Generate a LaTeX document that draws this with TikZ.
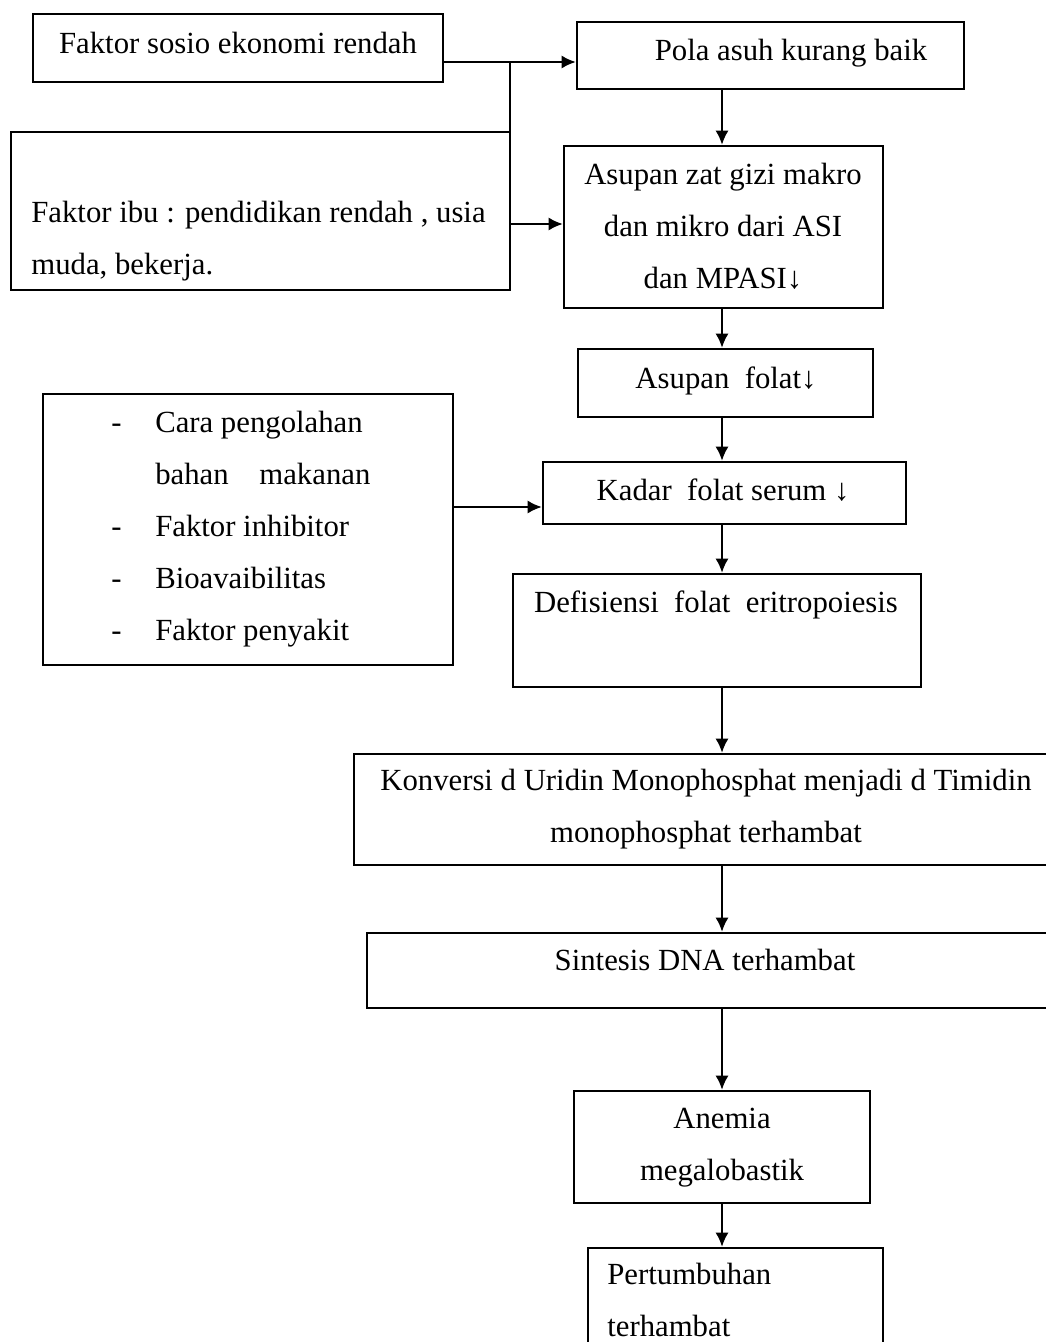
\documentclass[tikz,border=0pt]{standalone}
\usepackage{fontspec}
\setmainfont{Liberation Serif}
\usetikzlibrary{%
  arrows.meta,%
  calc%
}
\tikzset{>={Latex[length=8pt,width=7.4pt]}}
\tikzset{box/.style 2 args = {draw, line width=1.4pt, inner sep=0pt,
        minimum width=#1*0.02cm, minimum height=#2*0.02cm},%
        txt/.style={anchor=base, inner sep=0pt, font=\fontsize{17.5}{29.6}\selectfont},%
        conn/.style={->, line width=1.1pt}}

\begin{document}
\begin{tikzpicture}[x=0.02cm,y=-0.02cm]
    \useasboundingbox (0,0) rectangle (1045,1342);
    % boxes
    \node[box={410}{68}] (sosio) at (238,48) {};
    \node[box={387}{67}] (pola) at (770.5,55.5) {};
    \node[box={499}{158}] (ibu) at (260.5,211) {};
    \node[box={319}{162}] (makro) at (723.5,227) {};
    \node[box={295}{68}] (folat) at (725.5,383) {};
    \node[box={363}{62}] (kadar) at (724.5,493) {};
    \node[box={410}{271}] (faktor) at (248,529.5) {};
    \node[box={408}{113}] (defisiensi) at (717,630.5) {};
    \node[box={706}{111}] (konversi) at (707,809.5) {};
    \node[box={693}{75}] (sintesis) at (713.5,970.5) {};
    \node[box={296}{112}] (anemia) at (722,1147) {};
    \node[box={295}{122}] (tumbuh) at (735.5,1309) {};
    % texts
    \node[txt] (sosiotxt) at (238,53) {Faktor sosio ekonomi rendah};
    \node[txt] (polatxt) at (791,60) {Pola asuh kurang baik};
    \node[txt,anchor=base west] (ibutxt) at (31,222)
        {\begin{tabular}[t]{@{}l@{}}Faktor ibu : pendidikan rendah , usia\\ muda, bekerja.\end{tabular}};
    \node[txt] (makrotxt) at (723,184)
        {\begin{tabular}[t]{@{}c@{}}Asupan zat gizi makro\\ dan mikro dari ASI\\ dan MPASI↓\end{tabular}};
    \node[txt] (folattxt) at (726,388) {Asupan\ \ folat↓};
    \node[txt] (kadartxt) at (723,500) {Kadar\ \ folat serum ↓};
    \node[txt,anchor=base west] (faktortxt) at (111,432)
        {\begin{tabular}[t]{@{}p{25pt}@{}l@{}}
        - & Cara pengolahan\\
          & bahan\hspace{1em}makanan\\
        - & Faktor inhibitor\\
        - & Bioavaibilitas\\
        - & Faktor penyakit
        \end{tabular}};
    \node[txt] (defisiensitxt) at (716,612) {Defisiensi\ \ folat\ \ eritropoiesis};
    \node[txt] (konversitxt) at (706,790)
        {\begin{tabular}[t]{@{}c@{}}Konversi d Uridin Monophosphat menjadi d Timidin\\ monophosphat terhambat\end{tabular}};
    \node[txt] (sintesistxt) at (705,970) {Sintesis DNA terhambat};
    \node[txt] (anemiatxt) at (722,1128)
        {\begin{tabular}[t]{@{}c@{}}Anemia\\ megalobastik\end{tabular}};
    \node[txt,anchor=base west] (tumbuhtxt) at (607,1284)
        {\begin{tabular}[t]{@{}l@{}}Pertumbuhan\\ terhambat\end{tabular}};
    % connectors
    \coordinate (col) at (722,0);
    \coordinate (jn) at (510,62);
    \coordinate (ibuy) at (0,224);
    \coordinate (faktory) at (0,507);
    \draw[conn] (sosio.east |- jn) -- (pola.west |- jn);
    \draw[line width=1.1pt] (jn) -- (jn |- ibu.north);
    \draw[conn] (ibu.east |- ibuy) -- (makro.west |- ibuy);
    \draw[conn] (faktor.east |- faktory) -- (kadar.west |- faktory);
    \draw[conn] (pola.south -| col) -- (makro.north -| col);
    \draw[conn] (makro.south -| col) -- (folat.north -| col);
    \draw[conn] (folat.south -| col) -- (kadar.north -| col);
    \draw[conn] (kadar.south -| col) -- (defisiensi.north -| col);
    \draw[conn] (defisiensi.south -| col) -- (konversi.north -| col);
    \draw[conn] (konversi.south -| col) -- (sintesis.north -| col);
    \draw[conn] (sintesis.south -| col) -- (anemia.north -| col);
    \draw[conn] (anemia.south -| col) -- (tumbuh.north -| col);
\end{tikzpicture}
\end{document}
